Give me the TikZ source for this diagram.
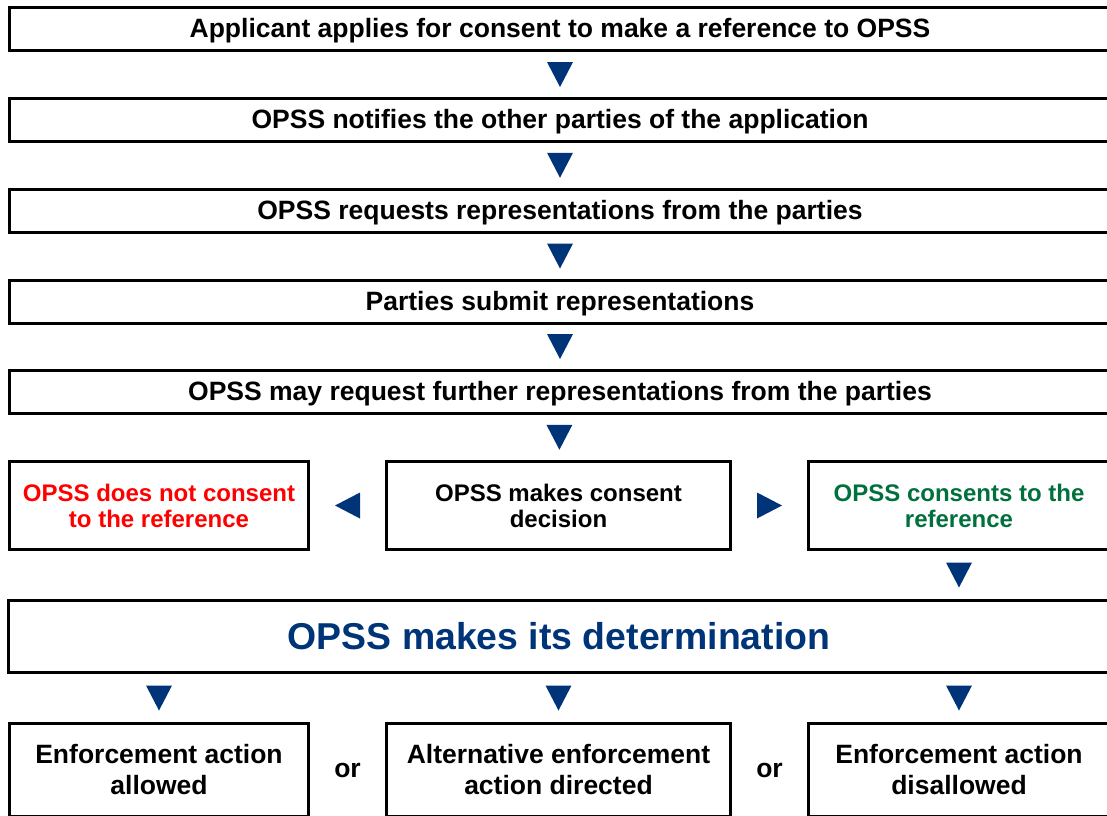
\documentclass[tikz,border=0pt]{standalone}
\usepackage{fontspec}
\setmainfont{Liberation Sans}
\usetikzlibrary{positioning}
\definecolor{opssblue}{RGB}{0,52,120}
\definecolor{opssgreen}{RGB}{0,112,60}
\begin{document}
\begin{tikzpicture}[x=1pt,y=-1pt,
    box/.style={draw,line width=3pt,inner sep=0pt,align=center},
    wide/.style={box,minimum width=1101pt,minimum height=43pt,text height=19pt,text depth=2pt,
        font=\fontsize{26.5}{30}\bfseries\selectfont},
    side/.style={box,minimum height=88pt,font=\fontsize{24}{26}\bfseries\selectfont},
    low/.style={box,minimum height=93pt,font=\fontsize{26.5}{31}\bfseries\selectfont},
    orlabel/.style={font=\fontsize{26.5}{31}\bfseries\selectfont},
    tri/.pic={\fill[opssblue] (-13,-12.5) -- (13,-12.5) -- (0,12.5) -- cycle;}]
    \def \xL {159}; % colonne gauche
    \def \xM {558.5}; % colonne milieu
    \def \xR {959}; % colonne droite
    \useasboundingbox (0,0) rectangle (1107,815);
    \clip (0,0) rectangle (1107,815);
    % etapes
    \foreach \n/\y/\txt in {1/29/Applicant applies for consent to make a reference to OPSS,
        2/120/OPSS notifies the other parties of the application,
        3/210.5/OPSS requests representations from the parties,
        4/301.5/Parties submit representations,
        5/391.5/OPSS may request further representations from the parties}
    \node[wide] (r\n) at (560,\y) {\txt};
    % decision
    \node[side,text=red,minimum width=299pt] (nocons) at (\xL,505.5) {OPSS does not consent\\to the reference};
    \node[side,minimum width=344pt] (decide) at (\xM,505.5) {OPSS makes consent\\decision};
    \node[side,text=opssgreen,minimum width=301pt] (cons) at (\xR,505.5) {OPSS consents to the\\reference};
    \node[box,minimum width=1101pt,minimum height=72pt,text=opssblue,
        font=\fontsize{37.4}{40}\bfseries\selectfont] (det) at (559,636.5) {OPSS makes its determination};
    % issues
    \node[low,minimum width=299pt] (allow) at (\xL,770) {Enforcement action\\allowed};
    \node[low,minimum width=344pt] (alt) at (\xM,770) {Alternative enforcement\\action directed};
    \node[low,minimum width=301pt] (disallow) at (\xR,770) {Enforcement action\\disallowed};
    % fleches
    \foreach \a/\b in {r1/r2,r2/r3,r3/r4,r4/r5,r5/decide}
    \path (\a) -- (\b) pic[midway]{tri};
    \path (decide) -- (nocons) pic[midway,rotate=-90]{tri};
    \path (decide) -- (cons) pic[midway,rotate=90]{tri};
    \path (cons) -- (cons |- det.north) pic[midway]{tri};
    \foreach \n in {allow,alt,disallow}
    \path (det.south -| \n) -- (\n) pic[midway]{tri};
    \path (allow) -- (alt) node[midway,orlabel] (or1) {or};
    \path (alt) -- (disallow) node[midway,orlabel] (or2) {or};
\end{tikzpicture}
\end{document}
